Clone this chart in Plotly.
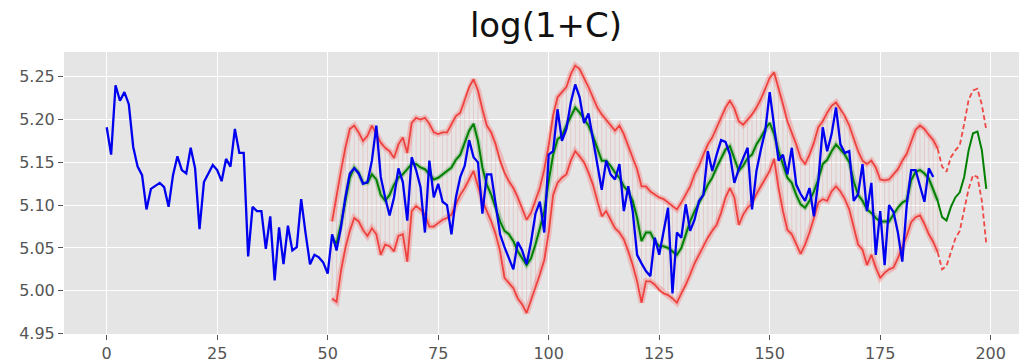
import plotly.graph_objects as go

# ---- data ----
blue_x0 = 0
blue_y = [5.191, 5.159, 5.240, 5.222, 5.232, 5.218, 5.168, 5.145, 5.135, 5.095,
          5.119, 5.123, 5.126, 5.121, 5.098, 5.135, 5.157, 5.141, 5.137, 5.167,
          5.143, 5.072, 5.127, 5.137, 5.147, 5.141, 5.128, 5.154, 5.145, 5.189,
          5.161, 5.161, 5.040, 5.098, 5.093, 5.093, 5.049, 5.087, 5.012, 5.074,
          5.031, 5.076, 5.047, 5.051, 5.107, 5.067, 5.031, 5.042, 5.039, 5.033,
          5.020, 5.066, 5.047, 5.074, 5.109, 5.137, 5.143, 5.137, 5.125, 5.127,
          5.152, 5.193, 5.133, 5.109, 5.088, 5.109, 5.143, 5.127, 5.082, 5.156,
          5.141, 5.121, 5.068, 5.152, 5.109, 5.125, 5.104, 5.100, 5.066, 5.109,
          5.133, 5.146, 5.176, 5.156, 5.150, 5.090, 5.136, 5.136, 5.098, 5.066,
          5.051, 5.039, 5.025, 5.057, 5.047, 5.031, 5.057, 5.090, 5.104, 5.068,
          5.159, 5.163, 5.212, 5.175, 5.189, 5.220, 5.241, 5.226, 5.196, 5.207,
          5.177, 5.144, 5.118, 5.152, 5.136, 5.130, 5.148, 5.093, 5.122, 5.093,
          5.042, 5.032, 5.023, 5.017, 5.062, 5.042, 5.071, 5.097, 4.997, 5.068,
          5.062, 5.101, 5.070, 5.083, 5.105, 5.112, 5.163, 5.140, 5.159, 5.176,
          5.174, 5.159, 5.126, 5.142, 5.155, 5.167, 5.095, 5.140, 5.165, 5.187,
          5.232, 5.195, 5.152, 5.159, 5.136, 5.167, 5.124, 5.113, 5.105, 5.120,
          5.087, 5.128, 5.191, 5.163, 5.183, 5.214, 5.171, 5.161, 5.163, 5.105,
          5.113, 5.148, 5.093, 5.126, 5.042, 5.093, 5.030, 5.100, 5.092, 5.068,
          5.034, 5.100, 5.141, 5.141, 5.121, 5.104, 5.143, 5.133]

fc_x0 = 51
green_y = [5.062, 5.055, 5.078, 5.105, 5.132, 5.144, 5.138, 5.126, 5.126,
           5.136, 5.130, 5.112, 5.105, 5.112, 5.124, 5.132, 5.136, 5.142, 5.148,
           5.148, 5.144, 5.142, 5.136, 5.130, 5.132, 5.136, 5.140, 5.144, 5.153,
           5.159, 5.173, 5.187, 5.195, 5.175, 5.144, 5.124, 5.112, 5.097, 5.081,
           5.070, 5.066, 5.058, 5.046, 5.038, 5.030, 5.038, 5.054, 5.073, 5.093,
           5.128, 5.159, 5.177, 5.181, 5.193, 5.204, 5.214, 5.208, 5.200, 5.193,
           5.181, 5.167, 5.152, 5.152, 5.146, 5.138, 5.132, 5.122, 5.116, 5.105,
           5.085, 5.058, 5.068, 5.068, 5.058, 5.052, 5.052, 5.050, 5.046, 5.042,
           5.050, 5.066, 5.081, 5.093, 5.103, 5.112, 5.124, 5.132, 5.144, 5.155,
           5.165, 5.169, 5.155, 5.140, 5.146, 5.155, 5.159, 5.171, 5.179, 5.189,
           5.196, 5.183, 5.163, 5.146, 5.132, 5.126, 5.112, 5.101, 5.097, 5.105,
           5.116, 5.130, 5.148, 5.153, 5.163, 5.171, 5.165, 5.159, 5.150, 5.128,
           5.112, 5.105, 5.095, 5.091, 5.085, 5.081, 5.081, 5.081, 5.089, 5.097,
           5.103, 5.106, 5.129, 5.139, 5.141, 5.137, 5.131, 5.117, 5.105, 5.086,
           5.082, 5.098, 5.109, 5.115, 5.133, 5.164, 5.184, 5.186, 5.164, 5.119]

upper_y = [5.081, 5.113, 5.140, 5.167, 5.189, 5.193, 5.185, 5.175, 5.181,
           5.193, 5.183, 5.173, 5.167, 5.163, 5.155, 5.171, 5.179, 5.161, 5.196,
           5.202, 5.200, 5.202, 5.195, 5.185, 5.183, 5.185, 5.185, 5.195, 5.204,
           5.208, 5.222, 5.238, 5.247, 5.234, 5.212, 5.193, 5.185, 5.171, 5.152,
           5.138, 5.128, 5.120, 5.109, 5.097, 5.083, 5.091, 5.105, 5.120, 5.142,
           5.170, 5.205, 5.226, 5.232, 5.238, 5.253, 5.263, 5.259, 5.249, 5.238,
           5.226, 5.214, 5.206, 5.200, 5.193, 5.187, 5.193, 5.183, 5.169, 5.155,
           5.142, 5.122, 5.122, 5.116, 5.112, 5.109, 5.107, 5.103, 5.099, 5.095,
           5.103, 5.112, 5.122, 5.136, 5.146, 5.159, 5.171, 5.179, 5.191, 5.202,
           5.214, 5.222, 5.213, 5.198, 5.194, 5.200, 5.206, 5.214, 5.224, 5.236,
           5.249, 5.255, 5.238, 5.218, 5.198, 5.185, 5.171, 5.155, 5.148, 5.159,
           5.173, 5.191, 5.198, 5.208, 5.216, 5.220, 5.212, 5.204, 5.193, 5.179,
           5.163, 5.152, 5.148, 5.152, 5.144, 5.130, 5.129, 5.130, 5.136, 5.142,
           5.152, 5.160, 5.174, 5.188, 5.193, 5.189, 5.182, 5.176, 5.166, 5.145,
           5.139, 5.156, 5.164, 5.170, 5.195, 5.223, 5.234, 5.236, 5.217, 5.188]

lower_y = [4.991, 4.987, 5.023, 5.050, 5.070, 5.085, 5.081, 5.071, 5.064,
           5.073, 5.066, 5.042, 5.054, 5.052, 5.046, 5.064, 5.066, 5.034, 5.093,
           5.099, 5.095, 5.089, 5.075, 5.075, 5.079, 5.083, 5.085, 5.089, 5.101,
           5.112, 5.120, 5.130, 5.140, 5.122, 5.105, 5.093, 5.081, 5.066, 5.046,
           5.015, 5.009, 5.003, 4.991, 4.984, 4.974, 4.989, 5.003, 5.019, 5.036,
           5.068, 5.112, 5.126, 5.132, 5.136, 5.152, 5.163, 5.157, 5.150, 5.138,
           5.124, 5.105, 5.087, 5.093, 5.083, 5.073, 5.068, 5.060, 5.046, 5.030,
           5.011, 4.986, 5.011, 5.011, 5.007, 5.001, 4.997, 4.995, 4.991, 4.986,
           4.997, 5.007, 5.019, 5.032, 5.042, 5.052, 5.062, 5.070, 5.077, 5.091,
           5.109, 5.120, 5.109, 5.077, 5.089, 5.097, 5.102, 5.113, 5.122, 5.132,
           5.140, 5.154, 5.120, 5.093, 5.071, 5.066, 5.054, 5.043, 5.054, 5.068,
           5.085, 5.103, 5.107, 5.105, 5.116, 5.122, 5.116, 5.107, 5.095, 5.073,
           5.054, 5.048, 5.030, 5.042, 5.027, 5.015, 5.021, 5.025, 5.027, 5.038,
           5.050, 5.064, 5.080, 5.086, 5.088, 5.078, 5.066, 5.057, 5.045, 5.025,
           5.029, 5.045, 5.061, 5.070, 5.094, 5.119, 5.135, 5.133, 5.105, 5.055]

solid_end = 188          # last x of the solid (in-sample) band
x_ticks = [0, 25, 50, 75, 100, 125, 150, 175, 200]
y_ticks = [4.95, 5.00, 5.05, 5.10, 5.15, 5.20, 5.25]
title_text = "log(1+C)"

# ---- derived x arrays ----
blue_x = list(range(blue_x0, blue_x0 + len(blue_y)))
fc_x = list(range(fc_x0, fc_x0 + len(green_y)))
k = solid_end - fc_x0 + 1
sx, sxu, sxl = fc_x[:k], upper_y[:k], lower_y[:k]
dx, dxu, dxl = fc_x[k - 1:], upper_y[k - 1:], lower_y[k - 1:]

RED = "rgba(238,45,40,0.85)"
fig = go.Figure()

# faint vertical hatching between the bands
vx, vy = [], []
for xi, lo, hi in zip(sx, sxl, sxu):
    vx += [xi, xi, None]
    vy += [lo, hi, None]
fig.add_trace(go.Scatter(x=vx, y=vy, mode="lines",
                         line=dict(color="rgba(240,90,90,0.25)", width=0.8),
                         hoverinfo="skip", showlegend=False))

# halo of the bands
for yy in (sxu, sxl):
    fig.add_trace(go.Scatter(x=sx, y=yy, mode="lines",
                             line=dict(color="rgba(245,110,110,0.35)", width=6),
                             showlegend=False))
    fig.add_trace(go.Scatter(x=sx, y=yy, mode="lines",
                             line=dict(color=RED, width=1.8),
                             showlegend=False))
for yy in (dxu, dxl):
    fig.add_trace(go.Scatter(x=dx, y=yy, mode="lines",
                             line=dict(color=RED, width=1.8, dash="5px,3px"),
                             showlegend=False))

# green mean
fig.add_trace(go.Scatter(x=fc_x[:k], y=green_y[:k], mode="lines",
                         line=dict(color="rgba(0,128,0,0.22)", width=5),
                         showlegend=False))
fig.add_trace(go.Scatter(x=fc_x, y=green_y, mode="lines",
                         line=dict(color="#008000", width=2),
                         showlegend=False))

# blue observed
fig.add_trace(go.Scatter(x=blue_x, y=blue_y, mode="lines",
                         line=dict(color="#0000F0", width=2.3),
                         showlegend=False))

axis_common = dict(
    showgrid=True, gridcolor="white", gridwidth=1.3,
    zeroline=False, showline=False,
    ticks="outside", ticklen=5, tickwidth=1.2, tickcolor="#555555",
    tickfont=dict(family="DejaVu Sans", size=16, color="#555555"),
)
fig.update_xaxes(range=[-9.66, 206.4], tickvals=x_ticks,
                 ticktext=[str(v) for v in x_ticks], **axis_common)
fig.update_yaxes(range=[4.9495, 5.2789], tickvals=y_ticks,
                 ticktext=[f"{v:.2f}" for v in y_ticks], **axis_common)

fig.update_layout(
    width=1019, height=363,
    margin=dict(l=64, r=0, t=52, b=29, pad=0),
    paper_bgcolor="white", plot_bgcolor="#E5E5E5",
    title=dict(text=title_text, x=546 / 1019, xref="container", xanchor="center",
               y=1 - 25 / 363, yref="container", yanchor="middle",
               font=dict(family="DejaVu Sans", size=34, color="#111111")),
    showlegend=False,
)

fig.write_html("out.html")
